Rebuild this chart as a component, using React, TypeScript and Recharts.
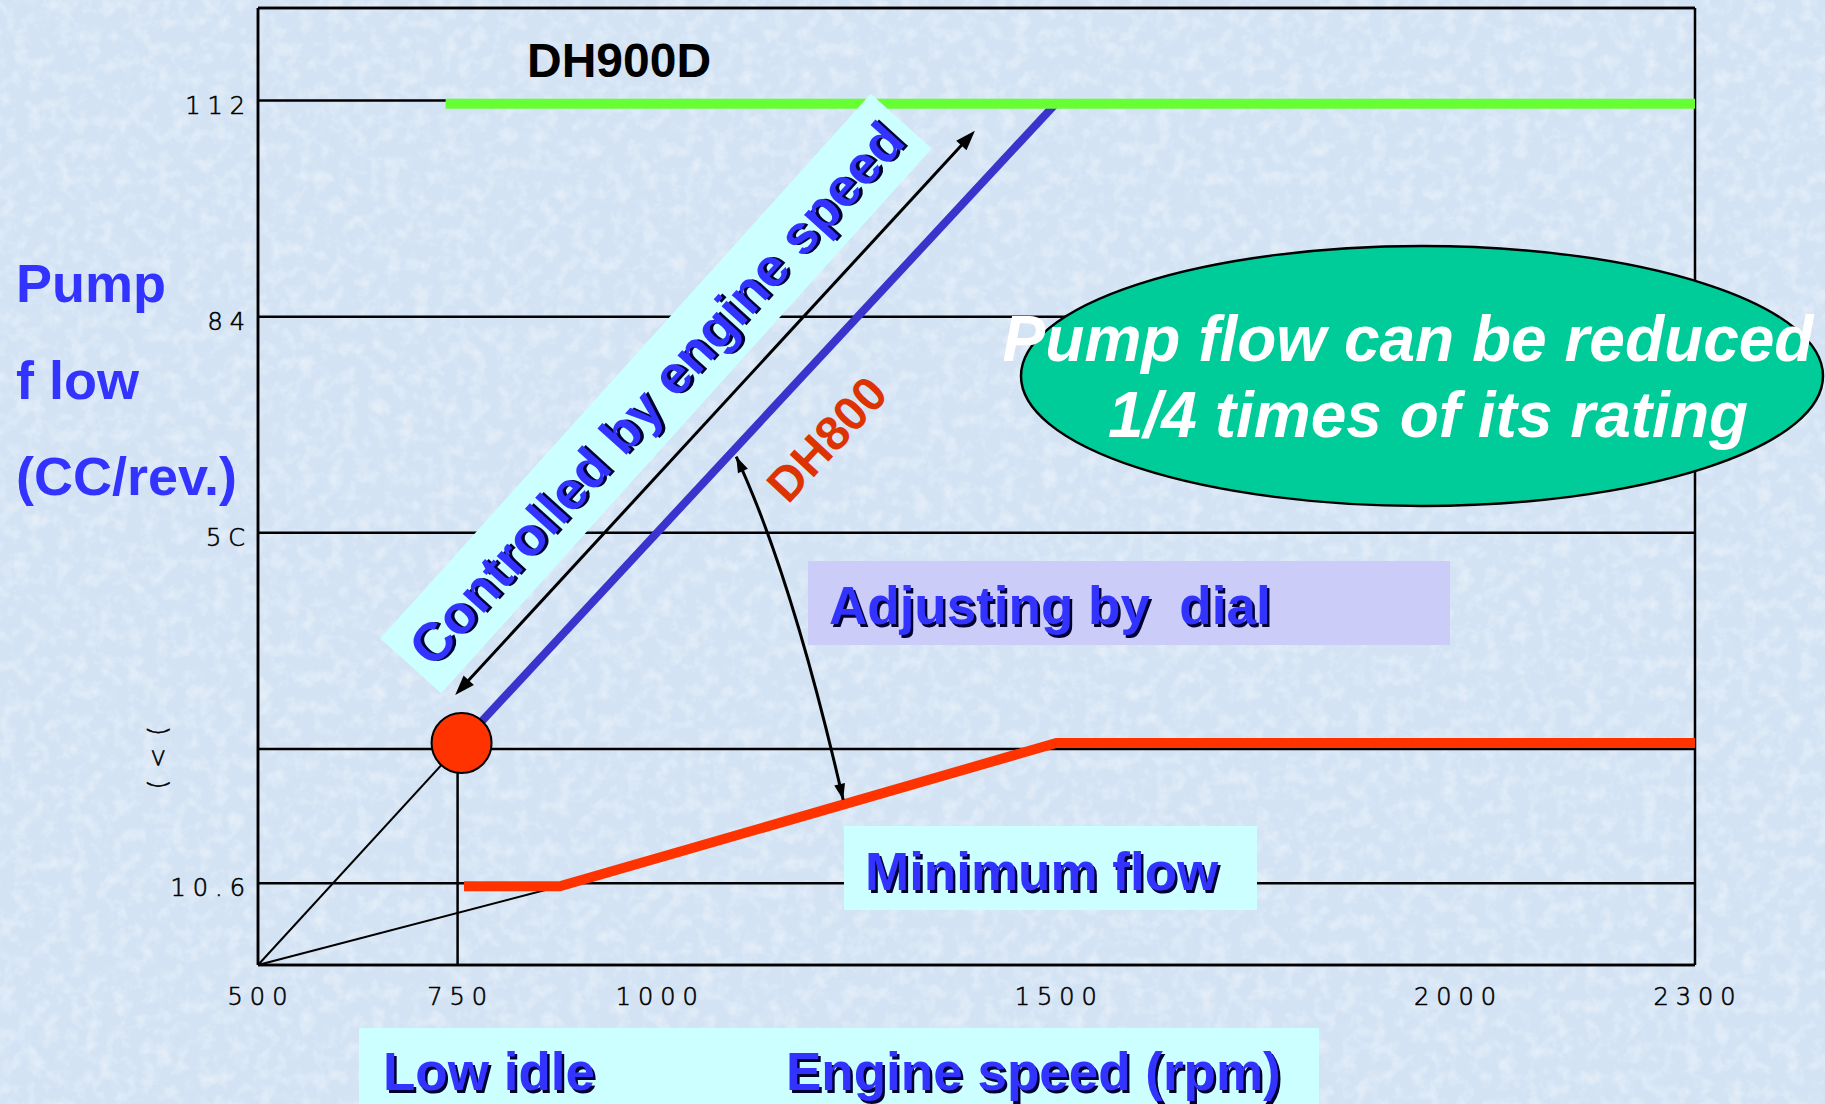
import React from "react";
import { LineChart, Line, XAxis, YAxis, CartesianGrid, ReferenceLine, ReferenceDot } from "recharts";

const W = 1825;
const H = 1104;
const FONT = '"Liberation Sans", Arial, sans-serif';
const TICK_FONT = '"DejaVu Sans", sans-serif';

// engine speed (rpm)
const rpmTicks = [500, 750, 1000, 1500, 2000, 2300];
const rpmGrid = [1000, 1500, 2000, 2300];

// pump flow (cc/rev)
const flowTicks = [10.6, 28, 50, 84, 112];
const flowTickLabels = ["10.6", "(<(", "5C", "84", "112"];
// the flow axis is not to scale: these values sit on evenly spaced grid lines
const flowSteps = [0, 28, 50, 84, 112];
const flowTop = 124;

const dh900dMax = [
  { rpm: 735, flow: 111.6 },
  { rpm: 2300, flow: 111.6 },
];
const dh800Rise = [
  { rpm: 755, flow: 28.6 },
  { rpm: 1500, flow: 111.7 },
];
const minimumFlow = [
  { rpm: 758, flow: 10.2 },
  { rpm: 878, flow: 10.2 },
  { rpm: 1500, flow: 28.6 },
  { rpm: 2300, flow: 28.6 },
];
const guideToIdle = [
  { rpm: 500, flow: 0 },
  { rpm: 755, flow: 28.6 },
];
const guideToMin = [
  { rpm: 500, flow: 0 },
  { rpm: 878, flow: 10.2 },
];
const lowIdle = { rpm: 755, flow: 28.6 };
const idleDrop = [
  { rpm: 750, flow: 0 },
  { rpm: 750, flow: 28.6 },
];
const speedArrow = [
  { rpm: 747, flow: 33.5 },
  { rpm: 1398, flow: 108.1 },
];
const dialArrow = [
  { rpm: 1099, flow: 62 },
  { rpm: 1233, flow: 21.4 },
];

function toPos(v: number) {
  for (let i = 0; i < flowSteps.length - 1; i++) {
    if (v <= flowSteps[i + 1]) return i + (v - flowSteps[i]) / (flowSteps[i + 1] - flowSteps[i]);
  }
  const n = flowSteps.length - 1;
  return n + (v - flowSteps[n]) / (flowSteps[n] - flowSteps[n - 1]);
}
const flowPos = (d: { flow: number }) => toPos(d.flow);
const seg = (pts: { rpm: number; flow: number }[]) => pts.map((p) => ({ x: p.rpm, y: toPos(p.flow) }));

function head(x: number, y: number, ux: number, uy: number, len: number, half: number) {
  const bx = x - ux * len;
  const by = y - uy * len;
  return `${x},${y} ${bx - uy * half},${by + ux * half} ${bx + uy * half},${by - ux * half}`;
}

const StraightArrow = (p: any) => {
  const { x1, y1, x2, y2 } = p;
  const L = Math.hypot(x2 - x1, y2 - y1);
  const ux = (x2 - x1) / L;
  const uy = (y2 - y1) / L;
  return (
    <g>
      <line x1={x1 + ux * 12} y1={y1 + uy * 12} x2={x2 - ux * 12} y2={y2 - uy * 12} stroke="#000" strokeWidth={3} />
      <polygon points={head(x2, y2, ux, uy, 20, 7)} fill="#000" />
      <polygon points={head(x1, y1, -ux, -uy, 20, 7)} fill="#000" />
    </g>
  );
};

const CurvedArrow = (p: any) => {
  const { x1, y1, x2, y2 } = p;
  const L = Math.hypot(x2 - x1, y2 - y1);
  const ux = (x2 - x1) / L;
  const uy = (y2 - y1) / L;
  const cx = x1 + 0.367 * (x2 - x1) + 17.6 * uy;
  const cy = y1 + 0.367 * (y2 - y1) - 17.6 * ux;
  const a = Math.hypot(x1 - cx, y1 - cy);
  const b = Math.hypot(x2 - cx, y2 - cy);
  return (
    <g>
      <path d={`M${x1},${y1} Q${cx},${cy} ${x2},${y2}`} fill="none" stroke="#000" strokeWidth={3} />
      <polygon points={head(x1, y1, (x1 - cx) / a, (y1 - cy) / a, 16, 5.5)} fill="#000" />
      <polygon points={head(x2, y2, (x2 - cx) / b, (y2 - cy) / b, 16, 5.5)} fill="#000" />
    </g>
  );
};

const tickText = {
  fontFamily: TICK_FONT,
  fontWeight: 200,
  fontSize: 24,
  fill: "#000",
  stroke: "#000",
  strokeWidth: 0.6,
};

const RpmTick = (p: any) => (
  <text x={p.x + 3} y={p.y} dy={32} textAnchor="middle" letterSpacing={7} {...tickText}>
    {p.payload.value}
  </text>
);

const FlowTick = (p: any) => {
  const i = flowTicks.findIndex((v) => Math.abs(toPos(v) - p.payload.value) < 1e-6);
  const label = flowTickLabels[i] ?? "";
  if (label === "(<(") {
    return (
      <text x={0} y={0} transform={`translate(${p.x - 92},${p.y + 3}) rotate(-90)`} textAnchor="middle" dominantBaseline="central" letterSpacing={12} {...tickText}>
        {label}
      </text>
    );
  }
  return (
    <text x={p.x + 2} y={p.y} dy={13} textAnchor="end" letterSpacing={7} {...tickText}>
      {label}
    </text>
  );
};

const blueText = { fontFamily: FONT, fontWeight: 700, fontSize: 53, fill: "#3333ff" };

function Shadowed({ x, y, anchor, size, children }: any) {
  const common = { ...blueText, fontSize: size ?? 53, textAnchor: anchor ?? "start", xmlSpace: "preserve", style: { whiteSpace: "pre" as const } };
  return (
    <g>
      <text x={x + 2.5} y={y + 2.5} {...common} fill="#000033">
        {children}
      </text>
      <text x={x} y={y} {...common}>
        {children}
      </text>
    </g>
  );
}

export default function App() {
  const line = { type: "linear" as const, dot: false, isAnimationActive: false, dataKey: flowPos };
  const rule = { stroke: "#000", strokeWidth: 2.5 };
  return (
    <div style={{ position: "absolute", left: 0, top: 0, width: W, height: H, background: "#d3e3f4", overflow: "hidden" }}>
      <svg width={W} height={H} style={{ position: "absolute", left: 0, top: 0 }}>
        <filter id="mottle" x="0" y="0" width="100%" height="100%">
          <feTurbulence type="fractalNoise" baseFrequency="0.07" numOctaves="4" seed="7" />
          <feColorMatrix type="matrix" values="0 0 0 0 1  0 0 0 0 1  0 0 0 0 1  0 0 0 -2.2 1.25" />
        </filter>
        <rect width={W} height={H} filter="url(#mottle)" opacity={0.4} />
      </svg>

      <LineChart width={W} height={H} margin={{ top: 8, right: 130, bottom: 109, left: 198 }}>
        <XAxis type="number" dataKey="rpm" domain={[500, 2300]} ticks={rpmTicks} interval={0} height={30} axisLine={rule} tickLine={false} tick={<RpmTick />} />
        <XAxis xAxisId="grid" type="number" dataKey="rpm" domain={[500, 2300]} ticks={rpmGrid} interval={0} hide />
        <YAxis type="number" domain={[0, toPos(flowTop)]} ticks={flowTicks.map(toPos)} interval={0} width={60} axisLine={rule} tickLine={false} tick={<FlowTick />} />
        <CartesianGrid xAxisId="grid" {...rule} />
        <ReferenceLine y={toPos(flowTop)} {...rule} ifOverflow="visible" />
        <ReferenceLine segment={seg(idleDrop)} {...rule} />
        <Line {...line} data={guideToIdle} stroke="#000" strokeWidth={2} />
        <Line {...line} data={guideToMin} stroke="#000" strokeWidth={2} />
        <Line {...line} data={minimumFlow} stroke="#ff3300" strokeWidth={10} />
        <Line {...line} data={dh800Rise} stroke="#3a33cc" strokeWidth={8} />
        <Line {...line} data={dh900dMax} stroke="#66ff33" strokeWidth={10} />
        <ReferenceLine segment={seg(speedArrow)} shape={StraightArrow} />
        <ReferenceLine segment={seg(dialArrow)} shape={CurvedArrow} />
        <ReferenceDot x={lowIdle.rpm} y={toPos(lowIdle.flow)} r={30} fill="#ff3300" stroke="#000" strokeWidth={2} />
      </LineChart>

      <svg width={W} height={H} style={{ position: "absolute", left: 0, top: 0, pointerEvents: "none" }}>
        <text x={527} y={77} fontFamily={FONT} fontWeight={700} fontSize={48} fill="#000">DH900D</text>

        <text x={16} y={302} {...blueText} fontSize={54}>Pump</text>
        <text x={16} y={399} {...blueText} fontSize={54}>f low</text>
        <text x={16} y={495} {...blueText} fontSize={54}>(CC/rev.)</text>

        <g transform="rotate(-48 656 393.5)">
          <rect x={656 - 366.5} y={393.5 - 41} width={733} height={82} fill="#ccffff" />
          <Shadowed x={656} y={393.5 + 19} anchor="middle" size={54}>Controlled by engine speed</Shadowed>
        </g>

        <text x={0} y={0} transform="translate(827 439) rotate(-47)" textAnchor="middle" dominantBaseline="central" fontFamily={FONT} fontWeight={700} fontSize={48} fill="#dd3300">DH800</text>

        <ellipse cx={1422} cy={376} rx={401} ry={130} fill="#00cc99" stroke="#000" strokeWidth={2.5} />
        <text x={1408} y={361} textAnchor="middle" fontFamily={FONT} fontWeight={700} fontStyle="italic" fontSize={64} fill="#fff">Pump flow can be reduced</text>
        <text x={1428} y={437} textAnchor="middle" fontFamily={FONT} fontWeight={700} fontStyle="italic" fontSize={64} fill="#fff">1/4 times of its rating</text>

        <rect x={808} y={561} width={642} height={84} fill="#ccccf8" />
        <Shadowed x={829} y={624}>Adjusting by  dial</Shadowed>

        <rect x={844} y={826} width={413} height={84} fill="#ccffff" />
        <Shadowed x={865} y={890}>Minimum flow</Shadowed>

        <rect x={359} y={1028} width={960} height={80} fill="#ccffff" />
        <Shadowed x={383} y={1090}>Low idle</Shadowed>
        <Shadowed x={786} y={1090}>Engine speed (rpm)</Shadowed>
      </svg>
    </div>
  );
}
